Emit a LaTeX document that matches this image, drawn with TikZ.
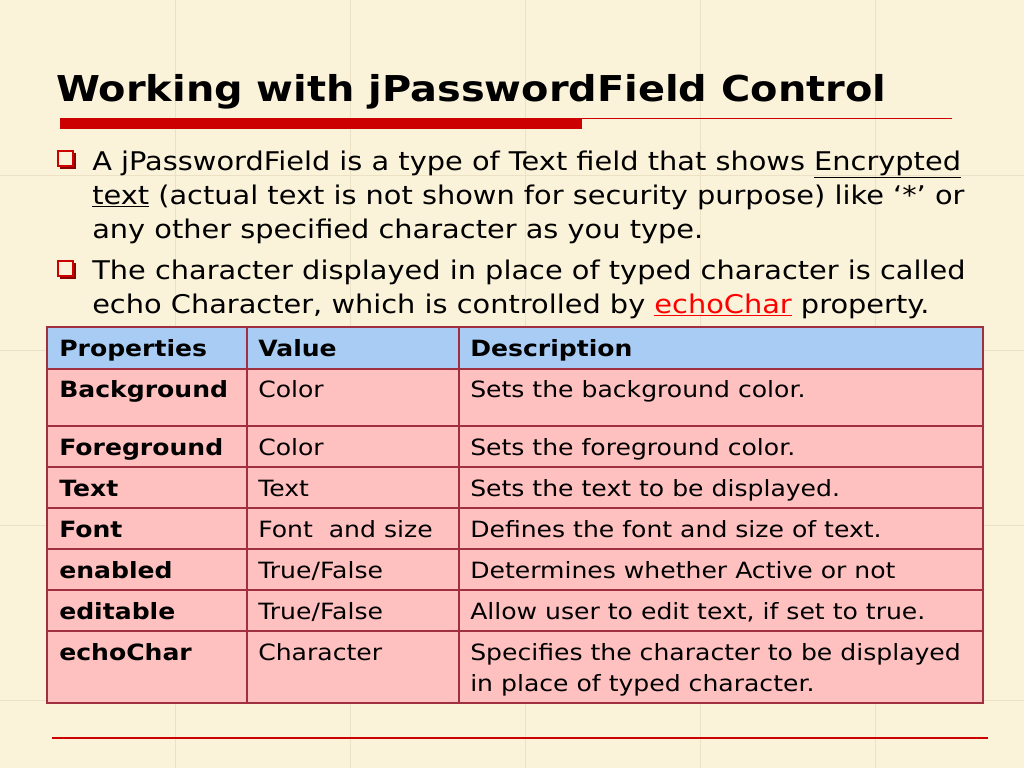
\documentclass[tikz,border=0pt]{standalone}
\usepackage{fontspec}
\setmainfont[FakeStretch=1.12]{DejaVu Sans}
\begin{document}
\begin{tikzpicture}[x=0.75pt,y=-0.75pt,
  ln/.style={anchor=base west,inner sep=0pt,font=\fontsize{19.3}{21}\selectfont},
  tx/.style={anchor=base west,inner sep=0pt,font=\fontsize{16.8}{19}\selectfont},
  bx/.style={tx,font=\fontsize{16.8}{19}\selectfont\bfseries},
  bul/.style={draw=red!75!black,line width=1.3pt,fill=none}]
\definecolor{bg}{HTML}{FBF2DA}
\definecolor{grid}{HTML}{ECE1C4}
\definecolor{hd}{HTML}{A8CCF4}
\definecolor{pk}{HTML}{FFC0C0}
\definecolor{bd}{HTML}{A03040}
\definecolor{rd}{HTML}{CC0000}
\useasboundingbox (0,0) rectangle (1024,768);
\fill[bg] (0,0) rectangle (1024,768);
\foreach \g in {175,350,525,700,875} \draw[grid,line width=0.6pt] (\g,0) -- (\g,768);
\foreach \g in {175,350,525,700} \draw[grid,line width=0.6pt] (0,\g) -- (1024,\g);
\node[anchor=base west,inner sep=0pt,font=\fontsize{26.7}{30}\selectfont\bfseries] (title) at (56,101) {Working with jPasswordField Control};
\fill[rd] (60,118) rectangle (582,129);
\draw[rd,line width=0.6pt] (582,118) -- (952,118);
\draw[rd,line width=0.8pt] (52,738) -- (988,738);
% bullets
\foreach \y in {150,260}{
 \fill[red!55!black] (60,\y+3) rectangle (76,\y+19);
 \filldraw[draw=rd,fill=bg,line width=1.5pt] (58,\y+1) rectangle (73,\y+16);}
\node[ln] (l1) at (92,170) {A jPasswordField is a type of Text field that shows \underline{Encrypted}};
\node[ln] (l2) at (92,204) {\underline{text} (actual text is not shown for security purpose) like ‘*’ or};
\node[ln] (l3) at (92,238) {any other specified character as you type.};
\node[ln] (l4) at (92,279) {The character displayed in place of typed character is called};
\node[ln] (l5) at (92,313) {echo Character, which is controlled by \textcolor{red}{\underline{echoChar}} property.};
% table
\fill[hd] (47,327) rectangle (983,369);
\fill[pk] (47,369) rectangle (983,703);
\draw[bd,line width=1pt] (47,327) rectangle (983,703);
\foreach \y in {369,426,467,508,549,590,631} \draw[bd,line width=1pt] (47,\y) -- (983,\y);
\foreach \x in {247,459} \draw[bd,line width=1pt] (\x,327) -- (\x,703);
\node[bx] (h1) at (59,356) {Properties};
\node[bx] (h2) at (258,356) {Value};
\node[bx] (h3) at (470,356) {Description};
\foreach \y/\p/\v/\d [count=\i] in {397/Background/Color/Sets the background color.,
  455/Foreground/Color/Sets the foreground color.,
  496/Text/Text/Sets the text to be displayed.,
  537/Font/Font~ and size/Defines the font and size of text.,
  578/enabled/True\slash False/Determines whether Active or not,
  619/editable/True\slash False/{Allow user to edit text, if set to true.},
  660/echoChar/Character/Specifies the character to be displayed}{
  \node[bx] (p\i) at (59,\y) {\p};
  \node[tx] (v\i) at (258,\y) {\v};
  \node[tx] (d\i) at (470,\y) {\d};}
\node[tx] (d8) at (470,691) {in place of typed character.};
\end{tikzpicture}
\end{document}
